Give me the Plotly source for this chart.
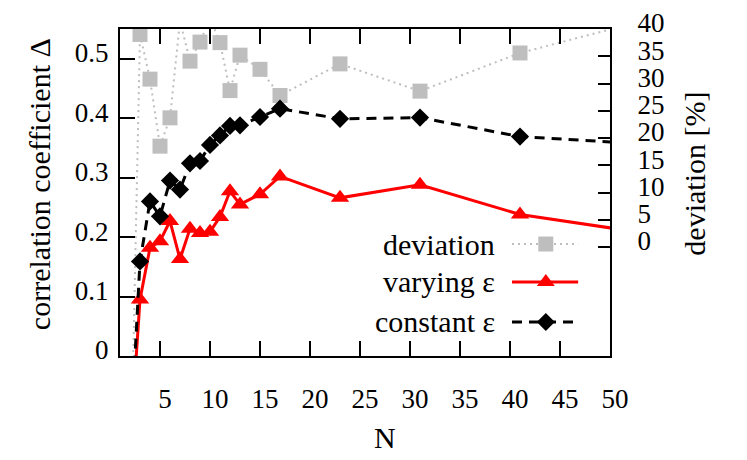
import plotly.graph_objects as go

FONT = "Liberation Serif, DejaVu Serif, serif"
GREY = "#bebebe"
RED = "#ff0000"
BLACK = "#000000"

# data (N=2 and N=61 lie outside the visible window)
n_values = [2, 3, 4, 5, 6, 7, 8, 9, 10, 11, 12, 13, 15, 17, 23, 31, 41, 61]
deviation = [-49.0, 39.0, 30.8, 18.5, 23.7, 41.5, 34.1, 37.6, 42.0, 37.5,
             28.7, 35.2, 32.6, 27.8, 33.6, 28.6, 35.6, 45.2]
varying_eps = [-0.158, 0.095, 0.182, 0.193, 0.227, 0.163, 0.214, 0.207, 0.209,
               0.234, 0.277, 0.255, 0.272, 0.302, 0.266, 0.288, 0.238, 0.188]
constant_eps = [-0.159, 0.159, 0.260, 0.235, 0.295, 0.280, 0.324, 0.328, 0.355,
                0.371, 0.387, 0.388, 0.402, 0.416, 0.399, 0.401, 0.369, 0.349]

x_ticks = [5, 10, 15, 20, 25, 30, 35, 40, 45, 50]
left_ticks = [0, 0.1, 0.2, 0.3, 0.4, 0.5]
left_labels = ["0", "0.1", "0.2", "0.3", "0.4", "0.5"]
right_ticks = [0, 5, 10, 15, 20, 25, 30, 35, 40]

legend_items = [
    ("deviation", GREY, "2px,4px", 2, "square"),
    ("varying ε", RED, "solid", 3, "triangle"),
    ("constant ε", BLACK, "10px,7px", 3, "diamond"),
]

fig = go.Figure()

# deviation lives on the primary (right) axis so it is drawn underneath
fig.add_trace(go.Scatter(
    x=n_values, y=deviation, mode="lines+markers", yaxis="y",
    line=dict(color=GREY, width=2, dash="2px,4px"),
    marker=dict(symbol="square", size=15, color=GREY),
    showlegend=False,
))
fig.add_trace(go.Scatter(
    x=n_values, y=varying_eps, mode="lines+markers", yaxis="y2",
    line=dict(color=RED, width=3),
    marker=dict(symbol="triangle-up", size=16, color=RED),
    showlegend=False,
))
fig.add_trace(go.Scatter(
    x=n_values, y=constant_eps, mode="lines+markers", yaxis="y2",
    line=dict(color=BLACK, width=3, dash="10px,7px"),
    marker=dict(symbol="diamond", size=14, color=BLACK),
    showlegend=False,
))

axis_common = dict(
    showgrid=False, zeroline=False, showline=True, automargin=False,
    linecolor=BLACK, linewidth=2,
    ticks="inside", tickcolor=BLACK, tickwidth=1.5,
    tickfont=dict(family=FONT, size=27, color=BLACK),
)

# legend drawn by hand: text on the left, sample on the right
shapes = []
annotations = []
row_y = [0.3425, 0.2263, 0.104]
for (label, color, dash, width, sym), yy in zip(legend_items, row_y):
    annotations.append(dict(
        text=label, xref="paper", yref="paper", x=0.769, y=yy,
        xanchor="right", yanchor="middle", showarrow=False,
        font=dict(family=FONT, size=30, color=BLACK),
    ))
    shapes.append(dict(
        type="line", xref="paper", yref="paper",
        x0=0.80, x1=0.935, y0=yy, y1=yy,
        line=dict(color=color, width=width, dash=dash),
    ))
    if sym == "square":
        path = "M-7.5,-7.5 L7.5,-7.5 L7.5,7.5 L-7.5,7.5 Z"
    elif sym == "triangle":
        path = "M-9,-4 L9,-4 L0,8 Z"
    else:
        path = "M0,-9 L9,0 L0,9 L-9,0 Z"
    shapes.append(dict(
        type="path", xref="paper", yref="paper",
        xsizemode="pixel", ysizemode="pixel", xanchor=0.869, yanchor=yy,
        path=path, fillcolor=color, line=dict(width=0),
    ))

title_font = dict(family=FONT, size=30, color=BLACK)
annotations += [
    dict(text="N", xref="paper", yref="paper", x=0.541, y=-0.248,
         xanchor="center", yanchor="middle", showarrow=False, font=title_font),
    dict(text="correlation coefficient Δ", xref="paper", yref="paper",
         x=-0.163, y=0.526, xanchor="center", yanchor="middle",
         textangle=-90, showarrow=False, font=title_font),
    dict(text="deviation [%]", xref="paper", yref="paper",
         x=1.173, y=0.557, xanchor="center", yanchor="middle",
         textangle=-90, showarrow=False, font=title_font),
]

# the page body adds an 8px offset, so the figure is drawn 8px smaller
fig.update_layout(
    width=739, height=452,
    margin=dict(l=112, r=137, t=21, b=104, autoexpand=False),
    paper_bgcolor="white", plot_bgcolor="white",
    font=dict(family=FONT, size=27, color=BLACK),
    xaxis=dict(
        range=[1, 50], tickvals=x_ticks, ticklen=15, mirror="ticks",
        ticklabelstandoff=18, ticklabelshift=5, **axis_common,
    ),
    yaxis=dict(
        range=[-20, 40], tickvals=right_ticks, ticklen=12, side="right",
        ticklabelstandoff=20, ticklabelshift=-6, **axis_common,
    ),
    yaxis2=dict(
        range=[0, 0.55], tickvals=left_ticks, ticktext=left_labels,
        ticklen=15, side="left", overlaying="y",
        ticklabelstandoff=4, ticklabelshift=-6, **axis_common,
    ),
    shapes=shapes,
    annotations=annotations,
)

fig.write_html("out.html")
